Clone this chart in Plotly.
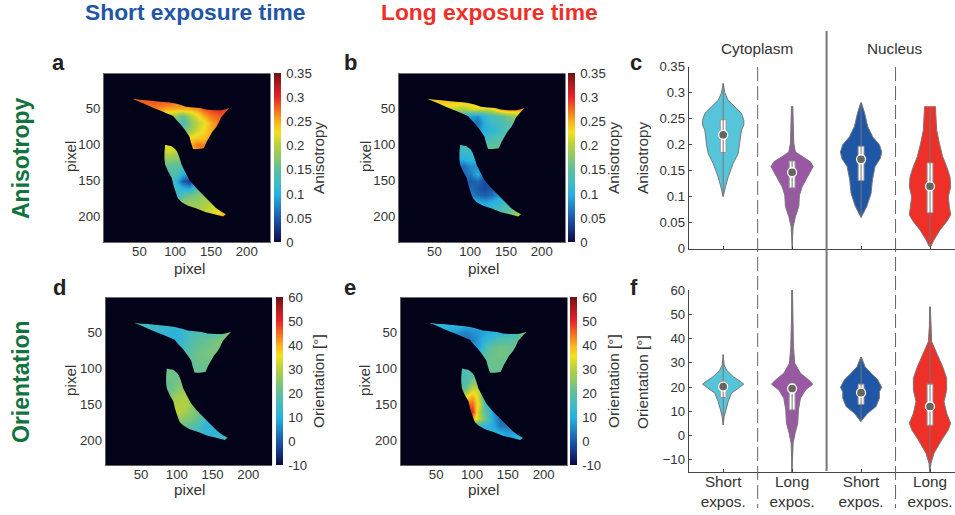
import plotly.graph_objects as go

W, H = 955, 515

# ---------- image grid ----------
grid_x = [30, 40, 50, 60, 70, 80, 90, 100, 110, 120, 130, 140, 150, 160, 170, 180]
grid_y = [30, 40, 50, 60, 70, 80, 90, 100, 110, 120, 130, 140, 150, 160, 170, 180, 190, 200, 210]

# Anisotropy x 100, short exposure
aniso_short = [
 [27,27,27,28,28,28,28,27,27,27,27,27,28,29,29,29],
 [27,27,28,28,28,28,28,27,27,27,27,28,29,30,30,30],
 [26,26,27,27,27,26,25,25,25,25,26,28,29,30,29,29],
 [22,22,22,22,22,21,19,18,15,19,22,25,27,28,28,28],
 [20,20,20,20,20,18,17,15,13,17,20,22,25,27,27,27],
 [20,20,20,20,20,18,17,16,16,18,21,23,25,27,27,27],
 [20,20,20,20,20,20,20,20,20,23,24,24,26,27,27,27],
 [21,21,21,21,21,22,22,22,22,25,27,27,27,27,27,27],
 [20,20,20,20,20,20,21,20,20,22,26,27,27,27,27,27],
 [17,17,17,17,17,17,18,17,17,17,17,17,17,17,17,17],
 [15,15,15,15,15,15,15,15,14,14,14,14,14,14,14,14],
 [14,14,14,14,14,14,14,14,10, 8, 9,10,12,12,12,12],
 [13,13,13,13,13,13,13,11, 5, 3,10,14,15,15,15,15],
 [12,12,12,12,12,12,12,12,10, 9,14,16,17,17,17,17],
 [11,11,11,11,11,11,11,11,14,16,17,18,19,19,19,19],
 [14,14,14,14,14,14,14,14,18,18,18,19,20,21,21,21],
 [19,19,19,19,19,19,19,19,19,19,19,20,21,22,23,23],
 [20,20,20,20,20,20,20,20,20,20,20,21,22,24,28,28],
 [20,20,20,20,20,20,20,20,20,20,20,21,22,24,28,28],
]
# Anisotropy x 100, long exposure
aniso_long = [
 [22,22,23,24,24,24,24,24,24,24,25,26,27,27,27,27],
 [22,23,24,24,24,24,24,24,24,24,25,26,27,28,28,28],
 [21,21,22,22,21,20,19,21,22,21,22,25,27,27,26,26],
 [18,18,18,18,17,14,12, 9, 8,11,13,14,16,18,20,20],
 [15,15,15,15,14,12,10, 7, 6,10,12,13,14,15,16,16],
 [15,15,15,15,14,12,10, 8, 8,10,11,12,14,15,16,16],
 [15,15,15,15,14,12,12,12,12,12,13,14,15,15,15,15],
 [14,14,14,14,14,13,13,13,13,15,15,15,15,15,15,15],
 [12,12,12,12,12,12,12,12,12,13,15,15,15,15,15,15],
 [10,10,10,10,10,10,10,11,10,10,10,10,10,10,10,10],
 [ 7, 7, 7, 7, 7, 7, 6, 8, 8, 7, 7, 7, 7, 7, 7, 7],
 [ 7, 7, 7, 7, 7, 7, 6, 7,10, 5, 5, 5, 5, 5, 5, 5],
 [ 6, 6, 6, 6, 6, 6, 6, 5, 6, 4, 5, 5, 5, 5, 5, 5],
 [ 6, 6, 6, 6, 6, 6, 6, 6, 5, 4, 5, 7, 7, 7, 7, 7],
 [ 7, 7, 7, 7, 7, 7, 7, 7, 6, 5, 6, 9, 9, 9, 9, 9],
 [10,10,10,10,10,10,10,10,10, 9,10,11,12,12,12,12],
 [11,11,11,11,11,11,11,11,11,11,12,13,14,16,17,17],
 [13,13,13,13,13,13,13,13,13,13,14,15,16,18,22,22],
 [13,13,13,13,13,13,13,13,13,13,14,15,16,18,22,22],
]
# Orientation in degrees, short exposure
orient_short = [
 [15,15,15,15,15,15,14,14,14,14,14,15,16,18,20,20],
 [15,15,15,15,14,13,13,13,14,14,15,16,17,18,22,24],
 [15,15,15,14,13,12,11,10,14,16,17,17,17,19,25,25],
 [15,15,15,14,13,12,11,11,14,18,20,21,22,24,24,24],
 [15,15,15,14,13,12,12,13,16,19,21,22,23,23,23,23],
 [15,15,15,14,13,13,14,15,18,20,22,23,23,23,23,23],
 [20,20,20,20,20,20,20,20,20,20,22,22,22,22,22,22],
 [22,22,22,22,22,22,22,22,22,21,21,21,21,21,21,21],
 [22,22,22,22,22,22,22,22,22,23,23,23,23,23,23,23],
 [21,21,21,21,21,21,21,23,25,25,25,25,25,25,25,25],
 [21,21,21,21,21,21,21,25,26,26,26,26,26,26,26,26],
 [24,24,24,24,24,24,25,28,29,25,24,24,24,24,24,24],
 [28,28,28,28,28,28,28,29,30,26,23,23,23,23,23,23],
 [29,29,29,29,29,29,29,31,28,25,22,20,20,20,20,20],
 [26,26,26,26,26,26,26,26,25,23,20,14,14,14,14,14],
 [22,22,22,22,22,22,22,22,21,19,16,11,12,12,12,12],
 [17,17,17,17,17,17,17,17,17,17,15,13,11,13,13,13],
 [15,15,15,15,15,15,15,15,15,15,15,14,14,15,17,17],
 [15,15,15,15,15,15,15,15,15,15,15,14,14,15,17,17],
]
# Orientation in degrees, long exposure
orient_long = [
 [12,12,12,12,11,11,10,10,10,10,10,11,12,14,18,18],
 [12,12,12,11,10,11, 9, 9, 9, 9,10,11,12,14,20,24],
 [12,12,11,10, 8, 6, 4, 6, 7, 9,10,12,13,15,24,24],
 [12,12,11,10, 8, 5, 3, 4, 8,12,15,18,19,20,22,22],
 [12,12,11,10, 8, 6, 5, 6, 8,17,21,22,21,21,21,21],
 [12,12,11,10, 8, 8, 8,10,14,20,22,23,22,22,22,22],
 [15,15,15,15,15,15,16,18,18,20,22,21,21,21,21,21],
 [17,17,17,17,17,17,17,18,19,21,21,21,21,21,21,21],
 [17,17,17,17,17,17,17,20,21,22,22,22,22,22,22,22],
 [17,17,17,17,17,17,17,25,24,20,20,20,20,20,20,20],
 [22,22,22,22,22,22,22,33,31,22,20,20,20,20,20,20],
 [35,35,35,35,35,35,35,41,30, 5,10,10,10,10,10,10],
 [45,45,45,45,45,45,45,45,33,12, 8, 8, 8, 8, 8, 8],
 [50,50,50,50,50,50,50,50,28,18, 6, 5, 5, 5, 5, 5],
 [40,40,40,40,40,40,40,40,30,20, 8, 2, 2, 2, 2, 2],
 [14,14,14,14,14,14,14,14,14,11, 9, 3, 4, 4, 4, 4],
 [12,12,12,12,12,12,12,12,12,12,12,10, 7, 9, 9, 9],
 [11,11,11,11,11,11,11,11,11,11,11,11,10,11,18,18],
 [11,11,11,11,11,11,11,11,11,11,11,11,10,11,18,18],
]
aniso_scale = 0.01

# cell outlines in image pixels
cell_top_x = [40,50,60,69,80,90,97,106,115,125,135,143,154,164,171,176,170,164,161,157,152,148,144,140,132,125,122,120,114,108,102,97,88,78,68,59,50]
cell_top_y = [36,37.5,38,39,40,41,42,44,47,48,49,51,52,52,50.5,48.6,55,62,69,76,82,89,96,105,106,106,97,89,80,72,66,60,56,52,48,44,40]
cell_low_x = [86,90,95,100,103,106,109,114,120,128,139,148,157,164,171,167,155,143,130,118,109,104,102,98,95,90,86,85,85]
cell_low_y = [100,101,102,106,110,118,128,138,149,159,170,179,188,193,197,200,197,194,189,185,180,175,170,158,146,137,128,120,111]

# ---------- violin profiles: value, half width ----------
cats = [1, 2, 3, 4]
cat_labels = ["Short<br>expos.", "Long<br>expos.", "Short<br>expos.", "Long<br>expos."]
colors = ["#56c5d9", "#9a58a4", "#1f56a6", "#ee3029"]

an_y = [
 [.318,.30,.286,.273,.26,.247,.238,.228,.215,.20,.183,.164,.138,.119,.10],
 [.274,.228,.203,.186,.177,.167,.158,.148,.135,.119,.103,.081,.062,.042,.02,.0],
 [.281,.26,.235,.215,.20,.186,.174,.158,.132,.106,.081,.06],
 [.274,.254,.228,.203,.177,.158,.138,.119,.10,.081,.065,.052,.036,.017,.005],
]
an_w = [
 [0,5,14,35,55,62,62,55,52,50,45,30,15,7,0],
 [2,4,5,10,30,55,63,55,45,30,22,20,10,3,1,1],
 [1,11,20,35,55,62,58,42,34,30,17,0],
 [16,18,20,28,38,50,60,62,55,58,62,50,30,12,3],
]
an_q1 = [.185, .117, .131, .069]
an_q3 = [.248, .1685, .197, .165]
an_med = [.219, .147, .172, .12]
an_min = [.10, .0, .06, .005]
an_max = [.318, .274, .281, .274]

or_y = [
 [33.4,29.1,27,24.3,22.3,21.2,19.5,17.5,14,10.6,7.8,4.4],
 [60,47.6,36.7,29.8,25.7,22.9,21.2,18.8,15.4,10.6,5.1,1,-3.1,-8.6,-15],
 [32.3,28.4,25.7,23,19.9,18.1,15.4,12,9.2,5.8],
 [53.1,45,38.7,34,28.4,23.6,18.8,14,9.2,5.1,2.4,-1.8,-7.3,-11.4,-15],
]
or_w = [
 [0,3,10,30,52,62,45,25,15,8,3,0],
 [1,2,4,8,25,50,62,40,25,19,17,9,3,1.5,1],
 [1,12,30,50,62,55,55,45,20,1],
 [1,2,5,20,38,50,50,42,50,62,55,35,12,3,1],
]
or_q1 = [15.7, 10.6, 12.9, 4.3]
or_q3 = [22.3, 21.5, 21.2, 21.2]
or_med = [20.2, 19.4, 17.7, 12]
or_min = [4.4, -15, 5.8, -15]
or_max = [33.4, 60, 32.3, 53.1]

width_unit = 1 / 207.0
box_half = 0.042

panel_letters = ["a", "b", "c", "d", "e", "f"]

# ---------- helpers ----------
def px(x): return x / W
def py(y): return 1 - y / H

jet = [[0, "#0a0a3e"], [.07, "#16307f"], [.14, "#1b58a8"], [.28, "#27b0e2"], [.36, "#43bcc0"],
       [.43, "#5fbf9a"], [.57, "#b5d13d"], [.65, "#f3e01f"], [.71, "#f8b41e"], [.78, "#f3701f"],
       [.86, "#e6212a"], [.93, "#b01b20"], [1, "#6d1212"]]
BG = "#020218"
TXT = "#333333"
GR = "#777777"

fig = go.Figure()
layout = dict(width=W, height=H, margin=dict(l=0, r=0, t=0, b=0, autoexpand=False), paper_bgcolor="white", plot_bgcolor="white",
              showlegend=False, font=dict(family="Liberation Sans, Arial, sans-serif", size=13.2, color=TXT))
shapes, annos = [], []

def note(text, x, y, size, color=TXT, bold=False, angle=0, xanchor="center"):
    annos.append(dict(text=f"<b>{text}</b>" if bold else text, x=px(x), y=py(y), xref="paper", yref="paper", showarrow=False,
                      font=dict(size=size, color=color), textangle=angle, xanchor=xanchor, yanchor="middle"))

maps = [
 ("", (104, 270.7, 73.3, 242), (273.7, 281), aniso_short, aniso_scale, 0, .35, [0,.05,.1,.15,.2,.25,.3,.35], "Anisotropy", (189,268), (70,157), (318,158)),
 ("2", (399, 565.7, 73.3, 242), (568.3, 575.7), aniso_long, aniso_scale, 0, .35, [0,.05,.1,.15,.2,.25,.3,.35], "Anisotropy", (484,268), (365,157), (613,158)),
 ("3", (105.7, 272.3, 297.3, 465.3), (276, 283.3), orient_short, 1, -10, 60, [-10,0,10,20,30,40,50,60], "Orientation [°]", (189,489), (70,381), (318,381)),
 ("4", (400.7, 567.7, 297.3, 465.3), (570.3, 577.6), orient_long, 1, -10, 60, [-10,0,10,20,30,40,50,60], "Orientation [°]", (484,489), (364,381), (613,381)),
]
def poly(xs, ys):
    return "M" + "L".join(f"{a},{b}" for a, b in zip(xs, ys)) + "Z"

for n, (l, r, t, b), (cl, cr), z, sc, zmin, zmax, tv, ttl, xt, yt, ct in maps:
    zz = [[v * sc for v in row] for row in z]
    fig.add_trace(go.Heatmap(x=grid_x, y=grid_y, z=zz, zmin=zmin, zmax=zmax, colorscale=jet, zsmooth="best",
                             xaxis="x" + n, yaxis="y" + n, hoverinfo="skip",
                             colorbar=dict(x=px(cl), xanchor="left", xpad=0, y=py(t), yanchor="top", ypad=0,
                                           len=(b - t) / H, lenmode="fraction", thickness=cr - cl, thicknessmode="pixels",
                                           outlinewidth=0, tickvals=tv, ticktext=[f"{v:g}" for v in tv], ticks="outside", ticklen=3,
                                           tickcolor="rgba(0,0,0,0)", tickfont=dict(size=13.2, color=TXT))))
    layout["xaxis" + n] = dict(domain=[px(l), px(r)], range=[0.5, 233.5], anchor="y" + n, tickvals=[50,100,150,200],
                               ticks="", showgrid=False, zeroline=False, showline=True, linecolor="#666", linewidth=1,
                               ticklabelstandoff=-3)
    layout["yaxis" + n] = dict(domain=[py(b), py(t)], range=[235.5, 0.5], anchor="x" + n, tickvals=[50,100,150,200],
                               ticks="", showgrid=False, zeroline=False, showline=True, linecolor="#666", linewidth=1)
    note("pixel", xt[0], xt[1], 15.3)
    note("pixel", yt[0], yt[1], 15.3, angle=-90)
    note(ttl, ct[0], ct[1], 15.3, angle=-90)
    path = f"M0.5,0.5L233.5,0.5L233.5,235.5L0.5,235.5Z" + poly(cell_top_x, cell_top_y) + poly(cell_low_x, cell_low_y)
    shapes.append(dict(type="path", path=path, xref="x" + n, yref="y" + n, fillcolor=BG, line=dict(width=0), fillrule="evenodd", layer="above"))

VX = (688.7, 955)
x_rng = [0.5, 1 + (955 - 723) / 69.0]
def violins(xa, ya, ys, ws, q1, q3, med, lo, hi):
    for i, c in enumerate(cats):
        h = [w * width_unit for w in ws[i]]
        fig.add_trace(go.Scatter(x=[c + v for v in h] + [c - v for v in h[::-1]], y=ys[i] + ys[i][::-1],
                                 mode="lines", fill="toself", fillcolor=colors[i], line=dict(color=GR, width=1),
                                 xaxis=xa, yaxis=ya, hoverinfo="skip"))
        fig.add_trace(go.Scatter(x=[c - box_half, c + box_half, c + box_half, c - box_half, c - box_half],
                                 y=[q1[i], q1[i], q3[i], q3[i], q1[i]], mode="lines", fill="toself", fillcolor="white",
                                 line=dict(color="#999", width=1), xaxis=xa, yaxis=ya, hoverinfo="skip"))
        fig.add_trace(go.Scatter(x=[c, c], y=[lo[i], hi[i]], mode="lines", line=dict(color=GR, width=1),
                                 xaxis=xa, yaxis=ya, hoverinfo="skip"))
        fig.add_trace(go.Scatter(x=[c], y=[med[i]], mode="markers", marker=dict(size=9, color="#66665e", line=dict(color="white", width=1.3)),
                                 xaxis=xa, yaxis=ya, hoverinfo="skip"))

violins("x5", "y5", an_y, an_w, an_q1, an_q3, an_med, an_min, an_max)
violins("x6", "y6", or_y, or_w, or_q1, or_q3, or_med, or_min, or_max)
axis_c = dict(showgrid=False, zeroline=False, showline=True, linecolor="#444", linewidth=1, ticks="inside", ticklen=3, tickcolor="#444")
layout["xaxis5"] = dict(axis_c, domain=[px(VX[0]), 1], range=x_rng, anchor="y5", tickvals=cats, ticktext=["", "", "", ""])
layout["yaxis5"] = dict(axis_c, domain=[py(248.7), py(66.7)], range=[0, .35], anchor="x5", tickvals=[0,.05,.1,.15,.2,.25,.3,.35],
                        ticktext=["0","0.05","0.1","0.15","0.2","0.25","0.3","0.35"])
layout["xaxis6"] = dict(axis_c, domain=[px(VX[0]), 1], range=x_rng, anchor="y6", tickvals=cats, ticktext=cat_labels,
                        tickfont=dict(size=15.3, color=TXT), ticklabelstandoff=-4)
layout["yaxis6"] = dict(axis_c, domain=[py(472), py(290)], range=[-15, 60], anchor="x6", tickvals=[-10,0,10,20,30,40,50,60])
note("Anisotropy", 642, 158, 15.3, angle=-90)
note("Orientation [°]", 642, 382, 15.3, angle=-90)

for xv in (1.5, 3.5):
    shapes.append(dict(type="line", xref="x5", yref="paper", x0=xv, x1=xv, y0=py(67), y1=py(508),
                       line=dict(color="#666", width=1, dash="14px,5px")))
shapes.append(dict(type="line", xref="x5", yref="paper", x0=2.5, x1=2.5, y0=py(31), y1=py(471), line=dict(color="#777", width=2)))

note("Short exposure time", 194.5, 12, 22.8, "#1f56a6", True)
note("Long exposure time", 489.5, 12, 22.8, "#ee3029", True)
note("Anisotropy", 21, 158, 23, "#12733f", True, -90)
note("Orientation", 21, 382, 23, "#12733f", True, -90)
note("Cytoplasm", 757, 48, 15.3)
note("Nucleus", 895, 48, 15.3)
for t, x, y in zip(panel_letters, [50, 342, 628, 51, 342, 628], [62, 62, 62, 287, 287, 287]):
    note(t, x, y, 22, "#222222", True, xanchor="left")

layout["shapes"] = shapes
layout["annotations"] = annos
fig.update_layout(**layout)
fig.write_html("out.html", config={"displayModeBar": False},
               post_script="document.body.style.margin='0';document.documentElement.style.overflow='hidden';")
